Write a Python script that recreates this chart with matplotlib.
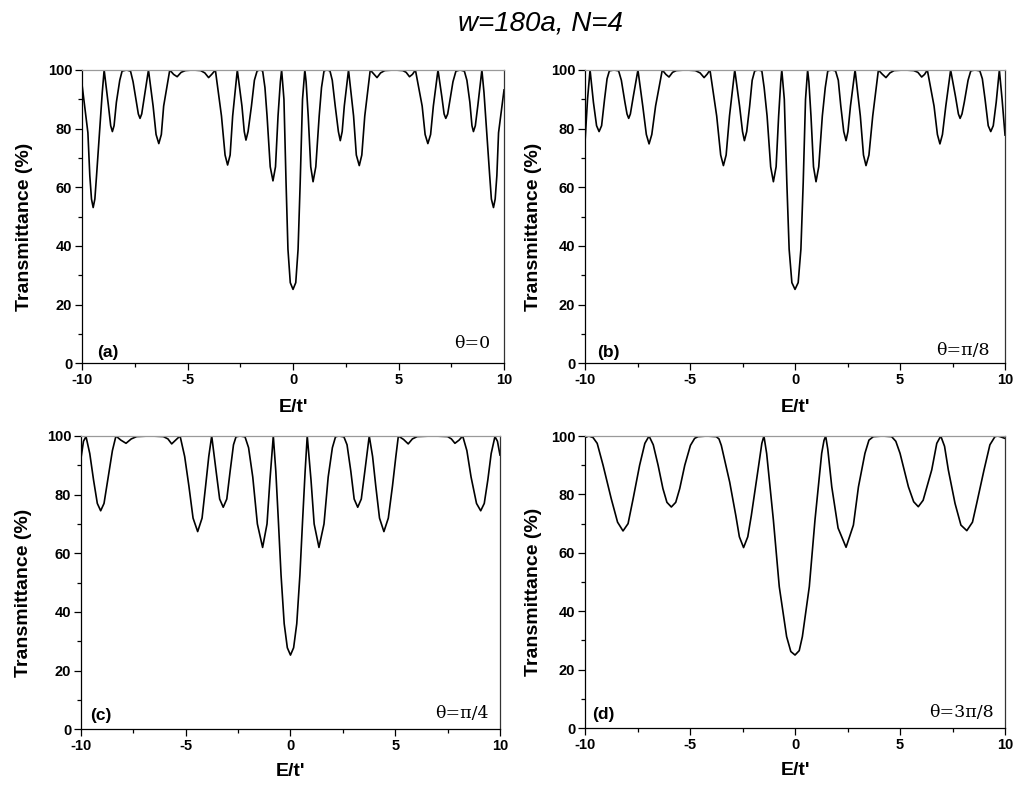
"""Transmittance vs E/t' for four twist angles (w=180a, N=4)."""

import matplotlib
matplotlib.use("Agg")
import matplotlib.pyplot as plt
from matplotlib.ticker import MultipleLocator

plt.rcParams["axes.unicode_minus"] = False

# values, E/t' and transmittance (%)
E_a = [-10.0, -9.72, -9.63, -9.55, -9.47, -9.39, -9.31, -9.17, -9.04, -8.95,
       -8.75, -8.64, -8.56, -8.48, -8.37, -8.21, -8.10, -7.89, -7.70, -7.58,
       -7.42, -7.33, -7.25, -7.17, -7.04, -6.85, -6.63, -6.49, -6.36, -6.24,
       -6.13, -5.84, -5.66, -5.49, -5.30, -5.10, -4.75, -4.38, -4.18, -4.00,
       -3.84, -3.68, -3.39, -3.22, -3.10, -2.98, -2.86, -2.64, -2.42, -2.31,
       -2.23, -2.13, -1.97, -1.83, -1.70, -1.57, -1.44, -1.33, -1.23, -1.08,
       -0.95, -0.83, -0.71, -0.60, -0.54, -0.43, -0.33, -0.24, -0.13, 0.0,
       0.13, 0.24, 0.34, 0.45, 0.56, 0.62, 0.72, 0.84, 0.95, 1.08,
       1.24, 1.35, 1.47, 1.61, 1.75, 1.86, 2.00, 2.15, 2.24, 2.33,
       2.43, 2.63, 2.87, 3.00, 3.14, 3.26, 3.40, 3.66, 3.83, 3.98,
       4.15, 4.35, 4.80, 5.20, 5.36, 5.52, 5.66, 5.80, 6.12, 6.26,
       6.39, 6.52, 6.65, 6.87, 7.05, 7.16, 7.24, 7.33, 7.42, 7.58,
       7.72, 7.92, 8.12, 8.24, 8.38, 8.48, 8.55, 8.64, 8.76, 8.95,
       9.05, 9.18, 9.32, 9.40, 9.50, 9.58, 9.66, 9.74, 10.0]
T_a = [95.1, 78.6, 64.0, 56.0, 53.1, 56.0, 64.0, 78.6, 92.3, 100.0,
       88.0, 81.0, 79.0, 81.0, 89.0, 96.5, 99.6, 100.0, 99.6, 96.0,
       89.0, 85.0, 83.5, 85.0, 91.0, 100.0, 87.7, 78.0, 74.9, 78.0,
       87.7, 100.0, 98.5, 97.7, 99.2, 99.8, 100.0, 99.8, 99.0, 97.4,
       98.6, 100.0, 84.3, 71.0, 67.6, 71.0, 84.3, 100.0, 87.7, 79.0,
       76.1, 79.0, 87.7, 96.5, 99.7, 100.0, 99.7, 94.0, 84.3, 67.0,
       62.2, 67.0, 84.3, 96.0, 100.0, 90.0, 61.6, 38.9, 27.5, 25.2,
       27.5, 38.9, 61.6, 90.0, 100.0, 96.0, 84.3, 67.0, 61.9, 67.0,
       84.3, 94.0, 99.7, 100.0, 99.7, 96.5, 87.7, 79.0, 75.9, 79.0,
       87.7, 100.0, 84.3, 71.0, 67.4, 71.0, 84.3, 100.0, 98.6, 97.4,
       99.0, 99.8, 100.0, 99.8, 99.2, 97.7, 98.5, 100.0, 87.7, 78.0,
       74.9, 78.0, 87.7, 100.0, 91.0, 85.0, 83.5, 85.0, 89.0, 96.0,
       99.6, 100.0, 99.6, 96.5, 89.0, 81.0, 79.0, 81.0, 88.0, 100.0,
       92.3, 78.6, 64.0, 56.0, 53.1, 56.0, 64.0, 78.6, 93.2]

E_b = [-10.0, -9.88, -9.76, -9.60, -9.45, -9.33, -9.21, -9.07, -8.95, -8.84,
       -8.62, -8.40, -8.27, -8.10, -8.00, -7.92, -7.84, -7.70, -7.48, -7.25,
       -7.08, -6.95, -6.82, -6.64, -6.32, -6.15, -6.00, -5.83, -5.65, -5.20,
       -4.75, -4.52, -4.33, -4.18, -4.05, -3.73, -3.54, -3.41, -3.28, -3.12,
       -2.87, -2.64, -2.50, -2.41, -2.30, -2.16, -2.04, -1.92, -1.75, -1.58,
       -1.47, -1.33, -1.16, -1.03, -0.90, -0.78, -0.68, -0.63, -0.51, -0.39,
       -0.28, -0.15, 0.0,
       0.15, 0.28, 0.39, 0.50, 0.60, 0.66, 0.76, 0.88, 1.00, 1.13,
       1.30, 1.44, 1.56, 1.75, 1.93, 2.06, 2.18, 2.32, 2.43, 2.52,
       2.64, 2.86, 3.11, 3.26, 3.38, 3.52, 3.70, 3.97, 4.15, 4.33,
       4.52, 4.72, 5.20, 5.65, 5.85, 6.03, 6.17, 6.30, 6.62, 6.78,
       6.90, 7.02, 7.18, 7.41, 7.64, 7.78, 7.86, 7.95, 8.06, 8.24,
       8.37, 8.57, 8.80, 8.92, 9.05, 9.20, 9.32, 9.44, 9.58, 9.73,
       9.86, 10.0]
T_b = [75.5, 90.0, 100.0, 89.0, 81.0, 79.0, 81.0, 90.0, 97.0, 99.7,
       100.0, 99.7, 96.5, 89.0, 85.0, 83.5, 85.0, 91.0, 100.0, 87.7,
       78.0, 74.8, 78.0, 87.7, 100.0, 98.5, 97.6, 99.2, 99.8, 100.0,
       99.8, 99.0, 97.4, 98.6, 100.0, 84.3, 71.0, 67.4, 71.0, 84.3,
       100.0, 87.7, 79.0, 75.9, 79.0, 87.7, 96.5, 99.7, 100.0, 99.7,
       94.0, 84.3, 67.0, 61.9, 67.0, 84.3, 96.0, 100.0, 90.0, 61.6,
       38.9, 27.5, 25.2,
       27.5, 38.9, 61.6, 90.0, 100.0, 96.0, 84.3, 67.0, 61.9, 67.0,
       84.3, 94.0, 99.7, 100.0, 99.7, 96.5, 87.7, 79.0, 75.9, 79.0,
       87.7, 100.0, 84.3, 71.0, 67.4, 71.0, 84.3, 100.0, 98.6, 97.4,
       99.0, 99.8, 100.0, 99.8, 99.2, 97.6, 98.5, 100.0, 87.7, 78.0,
       74.8, 78.0, 87.7, 100.0, 91.0, 85.0, 83.5, 85.0, 89.0, 96.5,
       99.7, 100.0, 99.7, 97.0, 90.0, 81.0, 79.0, 81.0, 89.0, 100.0,
       90.0, 77.8]

E_c = [-10.0, -9.88, -9.76, -9.58, -9.40, -9.22, -9.06, -8.90, -8.70, -8.50,
       -8.33, -8.10, -7.85, -7.60, -7.34, -6.70, -6.07, -5.85, -5.67, -5.45,
       -5.27, -5.05, -4.85, -4.65, -4.43, -4.22, -4.05, -3.90, -3.76, -3.55,
       -3.38, -3.21, -3.04, -2.88, -2.72, -2.60, -2.41, -2.17, -2.00, -1.80,
       -1.58, -1.33, -1.12, -0.98, -0.82, -0.70, -0.58, -0.45, -0.30, -0.15,
       0.0,
       0.15, 0.30, 0.45, 0.58, 0.70, 0.80, 0.98, 1.13, 1.36, 1.60,
       1.80, 2.00, 2.15, 2.30, 2.55, 2.70, 2.88, 3.04, 3.21, 3.38,
       3.55, 3.76, 3.92, 4.07, 4.25, 4.46, 4.67, 4.87, 5.03, 5.15,
       5.40, 5.62, 5.82, 6.05, 6.80, 7.50, 7.68, 7.85, 8.05, 8.22,
       8.42, 8.62, 8.88, 9.08, 9.25, 9.42, 9.58, 9.76, 9.88, 10.0]
T_c = [92.4, 98.2, 99.8, 94.0, 85.0, 77.0, 74.5, 77.0, 86.0, 95.0,
       100.0, 98.6, 97.5, 99.0, 99.8, 100.0, 99.8, 99.0, 97.3, 98.8,
       100.0, 93.0, 83.0, 72.0, 67.4, 72.0, 83.0, 93.0, 100.0, 88.0,
       78.5, 75.7, 78.5, 88.0, 97.0, 99.7, 100.0, 99.7, 96.0, 86.0,
       70.0, 62.0, 70.0, 85.0, 100.0, 88.0, 71.4, 52.6, 36.0, 27.8,
       25.3,
       27.8, 36.0, 52.6, 71.4, 88.0, 100.0, 85.0, 70.0, 62.0, 70.0,
       86.0, 96.0, 99.7, 100.0, 99.7, 97.0, 88.0, 78.5, 75.7, 78.5,
       88.0, 100.0, 93.0, 83.0, 72.0, 67.4, 72.0, 83.0, 93.0, 100.0,
       98.8, 97.3, 99.0, 99.8, 100.0, 99.8, 99.0, 97.5, 98.6, 100.0,
       95.0, 86.0, 77.0, 74.5, 77.0, 85.0, 94.0, 99.8, 98.2, 93.5]

E_d = [-10.0, -9.82, -9.62, -9.42, -9.14, -8.75, -8.45, -8.19, -7.95, -7.71,
       -7.40, -7.15, -6.95, -6.75, -6.52, -6.29, -6.10, -5.89, -5.68, -5.49,
       -5.25, -4.98, -4.78, -4.62, -4.20, -3.75, -3.62, -3.51, -3.11, -2.82,
       -2.65, -2.45, -2.25, -2.08, -1.73, -1.58, -1.48, -1.35, -1.03, -0.75,
       -0.40, -0.20, 0.0,
       0.20, 0.35, 0.68, 0.95, 1.27, 1.38, 1.46, 1.56, 1.75, 2.05,
       2.43, 2.78, 3.02, 3.33, 3.52, 3.73, 4.17, 4.60, 4.80, 5.00,
       5.40, 5.65, 5.87, 6.10, 6.51, 6.75, 6.94, 7.12, 7.30, 7.62,
       7.90, 8.18, 8.45, 8.65, 9.00, 9.28, 9.52, 9.65, 9.76, 10.0]
T_d = [99.5, 100.0, 99.5, 97.5, 90.0, 78.5, 70.5, 67.5, 70.0, 78.5,
       90.0, 97.5, 100.0, 97.0, 90.0, 82.0, 77.3, 75.7, 77.3, 82.0,
       90.0, 96.8, 99.2, 99.8, 100.0, 99.8, 99.0, 96.8, 84.2, 72.8,
       65.5, 61.8, 65.5, 72.8, 90.0, 97.5, 100.0, 94.0, 71.2, 48.4,
       31.3, 26.2, 25.0,
       26.5, 31.3, 48.4, 71.2, 94.1, 98.5, 100.0, 95.5, 82.6, 68.5,
       61.9, 69.5, 82.6, 94.1, 98.6, 99.8, 100.0, 99.8, 98.2, 94.1,
       82.6, 77.5, 75.8, 78.0, 88.4, 97.5, 100.0, 96.5, 88.4, 76.9,
       69.5, 67.6, 70.5, 76.9, 88.4, 97.0, 99.8, 100.0, 99.8, 99.2]

panel_tags = ["(a)", "(b)", "(c)", "(d)"]
theta_labels = ["θ=0", "θ=π/8", "θ=π/4", "θ=3π/8"]
title = "w=180a, N=4"

SANS = "Liberation Sans"
SERIF = "DejaVu Serif"

fig = plt.figure(figsize=(10.16, 7.96), dpi=100)
fig.text(0.532, 0.971, title, ha="center", va="center", fontsize=20,
         style="italic", family=SANS)

boxes = [(0.0807, 0.5436, 0.4154, 0.3685),
         (0.5758, 0.5436, 0.4134, 0.3685),
         (0.0797, 0.0838, 0.4124, 0.3685),
         (0.5758, 0.0854, 0.4134, 0.3668)]
ylab_x = [-0.116, -0.102, -0.117, -0.102]
tag_pos = [(0.036, 0.0225), (0.028, 0.0225), (0.021, 0.032), (0.016, 0.030)]
theta_pos = [(0.968, 0.052), (0.964, 0.028), (0.972, 0.039), (0.972, 0.038)]
xlab_y = [-0.122, -0.122, -0.115, -0.118]

series = [(E_a, T_a), (E_b, T_b), (E_c, T_c), (E_d, T_d)]

for i, (E, T) in enumerate(series):
    ax = fig.add_axes(boxes[i])
    ax.plot(E, T, color="black", lw=1.2, solid_joinstyle="round")
    ax.set_xlim(-10, 10)
    ax.set_ylim(0, 100)
    ax.xaxis.set_major_locator(MultipleLocator(5))
    ax.xaxis.set_minor_locator(MultipleLocator(2.5))
    ax.yaxis.set_major_locator(MultipleLocator(20))
    ax.yaxis.set_minor_locator(MultipleLocator(10))
    ax.tick_params(which="both", direction="out", width=0.9, pad=2,
                   labelsize=10.5)
    ax.tick_params(which="major", length=5)
    ax.tick_params(which="minor", length=3)
    for lab in ax.get_xticklabels() + ax.get_yticklabels():
        lab.set_fontfamily(SANS)
        lab.set_fontweight("bold")
    ax.spines["top"].set_color("#9a9a9a")
    ax.spines["right"].set_color("#333333")
    for s in ax.spines.values():
        s.set_linewidth(0.9)

    ax.set_ylabel("Transmittance (%)", fontsize=14, fontweight="bold",
                  family=SANS)
    ax.yaxis.set_label_coords(ylab_x[i], 0.465)
    ax.set_xlabel("E/t'", fontsize=14, fontweight="bold", family=SANS)
    ax.xaxis.set_label_coords(0.5, xlab_y[i])
    ax.xaxis.label.set_va("top")

    ax.text(*tag_pos[i], panel_tags[i], transform=ax.transAxes,
            fontsize=12.5, fontweight="bold", family=SANS, va="baseline")
    ax.text(*theta_pos[i], theta_labels[i], transform=ax.transAxes,
            fontsize=12.5, family=SERIF, ha="right", va="baseline")

fig.savefig("out.png", dpi=100)
